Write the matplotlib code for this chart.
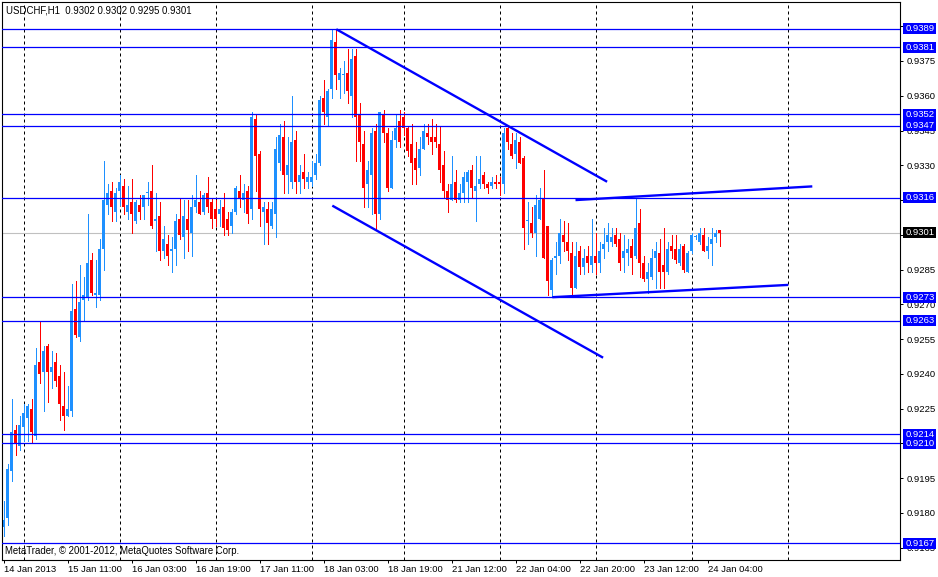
import matplotlib
matplotlib.use("Agg")
import matplotlib.pyplot as plt
import matplotlib.transforms as mtransforms
from matplotlib.patches import Rectangle
import numpy as np

plt.rcParams['font.family'] = ['Liberation Sans', 'DejaVu Sans']

# ---------------- data ----------------
title_text = "USDCHF,H1  0.9302 0.9302 0.9295 0.9301"
footer_text = "MetaTrader, \u00a9 2001-2012, MetaQuotes Software Corp."

opens = [
    0.9174, 0.9178, 0.9198, 0.9216, 0.9209, 0.9217, 0.9221, 0.9225, 0.9213, 0.9245,
    0.9241, 0.9252, 0.9241, 0.9245, 0.9239, 0.9226, 0.9222, 0.9224, 0.9268, 0.9256,
    0.9272, 0.9273, 0.9289, 0.9274, 0.9274, 0.9294, 0.9313, 0.9319, 0.9310, 0.9319,
    0.9321, 0.9310, 0.9314, 0.9306, 0.9313, 0.9312, 0.9318, 0.9319, 0.9306, 0.9308,
    0.9293, 0.9296, 0.9293, 0.9294, 0.9307, 0.9299, 0.9307, 0.9301, 0.9312, 0.9314,
    0.9310, 0.9318, 0.9314, 0.9311, 0.9309, 0.9312, 0.9307, 0.9304, 0.9310, 0.9319,
    0.9315, 0.9319, 0.9311, 0.9350, 0.9335, 0.9310, 0.9311, 0.9304, 0.9309, 0.9331,
    0.9342, 0.9326, 0.9323, 0.9341, 0.9323, 0.9327, 0.9323, 0.9323, 0.9326, 0.9331,
    0.9359, 0.9351, 0.9363, 0.9383, 0.9367, 0.9369, 0.9370, 0.9360, 0.9377, 0.9352,
    0.9339, 0.9322, 0.9326, 0.9345, 0.9309, 0.9352, 0.9344, 0.9320, 0.9341, 0.9349,
    0.9351, 0.9346, 0.9339, 0.9333, 0.9329, 0.9337, 0.9344, 0.9342, 0.9342, 0.9339,
    0.9330, 0.9319, 0.9315, 0.9323, 0.9315, 0.9318, 0.9323, 0.9328, 0.9319, 0.9322,
    0.9326, 0.9322, 0.9321, 0.9323, 0.9323, 0.9322, 0.9346, 0.9339, 0.9335, 0.9340,
    0.9333, 0.9306, 0.9305, 0.9301, 0.9307, 0.9316, 0.9304, 0.9276, 0.9290, 0.9291,
    0.9300, 0.9297, 0.9292, 0.9277, 0.9293, 0.9286, 0.9291, 0.9287, 0.9291, 0.9288,
    0.9294, 0.9297, 0.9297, 0.9300, 0.9298, 0.9290, 0.9292, 0.9295, 0.9291, 0.9305,
    0.9288, 0.9281, 0.9282, 0.9290, 0.9292, 0.9287, 0.9284, 0.9295, 0.9294, 0.9288,
    0.9295, 0.9284, 0.9293, 0.9299, 0.9297, 0.9300, 0.9293, 0.9296, 0.9299, 0.9302,
]
highs = [
    0.9185, 0.9201, 0.9229, 0.9218, 0.9222, 0.9227, 0.9227, 0.9229, 0.9251, 0.9263,
    0.9252, 0.9253, 0.9250, 0.9249, 0.9244, 0.9241, 0.9235, 0.9279, 0.9280, 0.9287,
    0.9282, 0.9309, 0.9292, 0.9289, 0.9298, 0.9332, 0.9322, 0.9323, 0.9320, 0.9326,
    0.9324, 0.9321, 0.9324, 0.9315, 0.9317, 0.9317, 0.9323, 0.9330, 0.9318, 0.9314,
    0.9304, 0.9300, 0.9299, 0.9309, 0.9316, 0.9315, 0.9315, 0.9317, 0.9326, 0.9319,
    0.9318, 0.9325, 0.9316, 0.9315, 0.9315, 0.9318, 0.9310, 0.9311, 0.9321, 0.9326,
    0.9322, 0.9321, 0.9353, 0.9352, 0.9336, 0.9314, 0.9314, 0.9314, 0.9342, 0.9348,
    0.9349, 0.9342, 0.9360, 0.9345, 0.9330, 0.9335, 0.9327, 0.9332, 0.9335, 0.9360,
    0.9367, 0.9363, 0.9389, 0.9389, 0.9372, 0.9375, 0.9380, 0.9380, 0.9380, 0.9357,
    0.9345, 0.9332, 0.9346, 0.9348, 0.9353, 0.9354, 0.9346, 0.9345, 0.9352, 0.9354,
    0.9353, 0.9347, 0.9348, 0.9340, 0.9342, 0.9348, 0.9348, 0.9350, 0.9348, 0.9347,
    0.9336, 0.9322, 0.9334, 0.9328, 0.9322, 0.9327, 0.9328, 0.9330, 0.9334, 0.9334,
    0.9327, 0.9323, 0.9325, 0.9326, 0.9325, 0.9346, 0.9347, 0.9344, 0.9344, 0.9342,
    0.9334, 0.9314, 0.9312, 0.9317, 0.9320, 0.9328, 0.9304, 0.9290, 0.9297, 0.9307,
    0.9306, 0.9305, 0.9297, 0.9297, 0.9295, 0.9294, 0.9295, 0.9307, 0.9301, 0.9297,
    0.9303, 0.9305, 0.9303, 0.9303, 0.9301, 0.9300, 0.9298, 0.9298, 0.9316, 0.9311,
    0.9291, 0.9288, 0.9294, 0.9297, 0.9298, 0.9303, 0.9297, 0.9300, 0.9300, 0.9296,
    0.9296, 0.9293, 0.9301, 0.9300, 0.9303, 0.9303, 0.9299, 0.9303, 0.9302, 0.9302,
]
lows = [
    0.9170, 0.9175, 0.9194, 0.9205, 0.9207, 0.9211, 0.9211, 0.9210, 0.9212, 0.9236,
    0.9224, 0.9228, 0.9234, 0.9235, 0.9220, 0.9216, 0.9222, 0.9222, 0.9256, 0.9254,
    0.9263, 0.9272, 0.9274, 0.9269, 0.9272, 0.9285, 0.9309, 0.9306, 0.9306, 0.9313,
    0.9309, 0.9307, 0.9301, 0.9305, 0.9307, 0.9307, 0.9313, 0.9303, 0.9293, 0.9289,
    0.9290, 0.9287, 0.9284, 0.9287, 0.9298, 0.9290, 0.9293, 0.9291, 0.9310, 0.9309,
    0.9309, 0.9310, 0.9303, 0.9304, 0.9304, 0.9300, 0.9300, 0.9301, 0.9309, 0.9312,
    0.9310, 0.9305, 0.9307, 0.9319, 0.9304, 0.9296, 0.9296, 0.9303, 0.9299, 0.9328,
    0.9318, 0.9318, 0.9320, 0.9318, 0.9318, 0.9320, 0.9320, 0.9321, 0.9324, 0.9330,
    0.9348, 0.9347, 0.9359, 0.9363, 0.9359, 0.9361, 0.9357, 0.9351, 0.9332, 0.9332,
    0.9312, 0.9312, 0.9309, 0.9302, 0.9307, 0.9340, 0.9319, 0.9320, 0.9338, 0.9338,
    0.9343, 0.9334, 0.9322, 0.9322, 0.9326, 0.9337, 0.9339, 0.9335, 0.9338, 0.9323,
    0.9316, 0.9310, 0.9315, 0.9314, 0.9314, 0.9314, 0.9314, 0.9316, 0.9306, 0.9320,
    0.9320, 0.9318, 0.9320, 0.9320, 0.9317, 0.9318, 0.9337, 0.9333, 0.9329, 0.9331,
    0.9294, 0.9296, 0.9299, 0.9291, 0.9307, 0.9290, 0.9274, 0.9273, 0.9283, 0.9288,
    0.9293, 0.9289, 0.9274, 0.9277, 0.9283, 0.9283, 0.9284, 0.9284, 0.9283, 0.9284,
    0.9290, 0.9293, 0.9295, 0.9295, 0.9285, 0.9284, 0.9287, 0.9283, 0.9290, 0.9282,
    0.9280, 0.9275, 0.9281, 0.9277, 0.9277, 0.9277, 0.9283, 0.9290, 0.9288, 0.9287,
    0.9284, 0.9284, 0.9292, 0.9298, 0.9296, 0.9293, 0.9290, 0.9287, 0.9297, 0.9295,
]
closes = [
    0.9177, 0.9199, 0.9215, 0.9210, 0.9218, 0.9223, 0.9226, 0.9215, 0.9244, 0.9240,
    0.9250, 0.9241, 0.9243, 0.9237, 0.9227, 0.9222, 0.9225, 0.9267, 0.9257, 0.9271,
    0.9274, 0.9288, 0.9275, 0.9275, 0.9294, 0.9315, 0.9318, 0.9312, 0.9318, 0.9323,
    0.9312, 0.9313, 0.9309, 0.9314, 0.9310, 0.9317, 0.93182, 0.9304, 0.9307, 0.9293,
    0.9298, 0.9291, 0.9294, 0.9306, 0.9300, 0.9308, 0.9302, 0.9312, 0.9315, 0.9309,
    0.9317, 0.9312, 0.9307, 0.9307, 0.9311, 0.9303, 0.9302, 0.9310, 0.9320, 0.9316,
    0.9318, 0.9309, 0.9351, 0.9334, 0.9311, 0.9312, 0.9305, 0.9311, 0.9337, 0.9343,
    0.9326, 0.9330, 0.9340, 0.9323, 0.9326, 0.9324, 0.9325, 0.9325, 0.9331, 0.9358,
    0.9353, 0.9362, 0.9384, 0.9369, 0.9370, 0.93692, 0.9362, 0.9376, 0.9351, 0.9340,
    0.9320, 0.9328, 0.9344, 0.9309, 0.9353, 0.9344, 0.9320, 0.9341, 0.9346, 0.9340,
    0.9346, 0.9336, 0.9331, 0.9328, 0.9337, 0.9345, 0.9342, 0.9340, 0.9340, 0.9328,
    0.9319, 0.9315, 0.9322, 0.9315, 0.9318, 0.9325, 0.9327, 0.9320, 0.9321, 0.9324,
    0.9322, 0.9320, 0.9323, 0.9322, 0.9322, 0.9344, 0.9340, 0.9334, 0.9341, 0.9331,
    0.9303, 0.93063, 0.9301, 0.9313, 0.9315, 0.9290, 0.9280, 0.9289, 0.9291, 0.9301,
    0.9297, 0.9293, 0.9277, 0.9291, 0.9286, 0.9290, 0.9288, 0.9291, 0.9288, 0.9293,
    0.9296, 0.9300, 0.9299, 0.9296, 0.9288, 0.9293, 0.9294, 0.9290, 0.9303, 0.9288,
    0.9281, 0.9284, 0.9290, 0.9293, 0.9284, 0.9284, 0.9294, 0.9293, 0.9289, 0.9294,
    0.9285, 0.9292, 0.9300, 0.92993, 0.9301, 0.9293, 0.9295, 0.9298, 0.9301, 0.9301,
]

xtick_bars = [0, 16, 32, 48, 64, 80, 96, 112, 128, 144, 160, 176]
xtick_labels = ["14 Jan 2013", "15 Jan 11:00", "16 Jan 03:00", "16 Jan 19:00",
                "17 Jan 11:00", "18 Jan 03:00", "18 Jan 19:00", "21 Jan 12:00",
                "22 Jan 04:00", "22 Jan 20:00", "23 Jan 12:00", "24 Jan 04:00"]
grid_bars = [5, 29, 53, 77, 100, 124, 148, 172, 196]
# price-scale ticks; labels that the reference hides fully under the boxes are blank
ytick_values = [0.9165, 0.9180, 0.9195, 0.9210, 0.9225, 0.9240, 0.9255, 0.9270,
                0.9285, 0.9300, 0.9315, 0.9330, 0.9345, 0.9360, 0.9375, 0.9390]
ytick_hidden = [0.9210, 0.9300, 0.9315, 0.9390]
level_lines = [0.9389, 0.9381, 0.9352, 0.9347, 0.9316, 0.9273, 0.9263,
               0.9214, 0.9210, 0.9167]
bid_price = 0.9301

# trend lines: (bar start, bar end), (price start, price end)
trend_bars = [(83.2, 150.9), (82.2, 149.9), (143.0, 202.2), (137.2, 196.2)]
trend_prices = [(0.93887, 0.93229), (0.93126, 0.92470),
                (0.93150, 0.93209), (0.92731, 0.92784)]

# ---------------- figure ----------------
W, H = 938, 577
fig = plt.figure(figsize=(W / 100, H / 100), dpi=100)
fig.patch.set_facecolor('white')
ax = fig.add_axes([2 / W, 17 / H, 898 / W, 558 / H])
ax.set_facecolor('white')

y_lo, y_hi = 0.915972, 0.940045
ax.set_xlim(-0.375, 224.125)
ax.set_ylim(y_lo, y_hi)
px = (y_hi - y_lo) / 558.0

BULL = '#1E90FF'
BEAR = '#FF0000'
LINE_BLUE = '#0000FF'

o = np.array(opens); h = np.array(highs); l = np.array(lows); c = np.array(closes)
n = len(o)
x = np.arange(n)
bull = c >= o
cols = np.where(bull, BULL, BEAR)
bottom = np.minimum(o, c)
height = np.maximum(np.abs(c - o), px)

# grid
for gb in grid_bars:
    ax.axvline(gb, color='black', lw=0.72, linestyle=(0, (3, 3)), zorder=1)

# bid line
ax.axhline(bid_price, color='#C0C0C0', lw=0.8, zorder=1.5)

# candles
ax.vlines(x, l, h, colors=cols, lw=0.72, zorder=2, antialiased=False)
ax.bar(x, height, bottom=bottom, width=0.7, color=cols, linewidth=0,
       zorder=2.1, antialiased=False)

# horizontal levels
for lv in level_lines:
    ax.axhline(lv, color=LINE_BLUE, lw=0.9, zorder=3)

# trend lines
for (xb, yp) in zip(trend_bars, trend_prices):
    ax.plot(xb, yp, color=LINE_BLUE, lw=1.7, solid_capstyle='butt', zorder=3.2)

# axes styling
for sp in ax.spines.values():
    sp.set_color('black')
    sp.set_linewidth(0.8)

ax.yaxis.tick_right()
ax.set_yticks(ytick_values)
ax.set_yticklabels(["" if v in ytick_hidden else f"{v:.4f}" for v in ytick_values])
ax.tick_params(axis='y', direction='out', length=2.3, width=0.72, pad=2.2,
               labelsize=6.8, colors='black')
ax.set_xticks(xtick_bars)
ax.set_xticklabels(xtick_labels)
ax.tick_params(axis='x', direction='out', length=2.3, width=0.72, pad=1.5,
               labelsize=6.8, colors='black')
for t in ax.get_xticklabels():
    t.set_horizontalalignment('left')

# price boxes on the right scale
trans = mtransforms.blended_transform_factory(fig.transFigure, ax.transData)
box_h = 11 * px
for lv in level_lines + [bid_price]:
    fc = 'black' if lv == bid_price else LINE_BLUE
    r = Rectangle((903 / W, lv - box_h / 2), 33 / W, box_h, transform=trans,
                  facecolor=fc, edgecolor='none', clip_on=False, zorder=10)
    ax.add_patch(r)
    ax.text(905.5 / W, lv, f"{lv:.4f}", transform=trans, color='white',
            fontsize=6.8, va='center', ha='left', clip_on=False, zorder=11)

# texts inside chart
fig.text(6 / W, 1 - 10.5 / H, title_text, fontsize=6.9, va='center', ha='left',
         color='black', zorder=12)
fig.text(5 / W, 1 - 551.5 / H, footer_text, fontsize=6.9, va='center', ha='left',
         color='black', zorder=12)

fig.savefig('out.png', dpi=100, facecolor='white')
